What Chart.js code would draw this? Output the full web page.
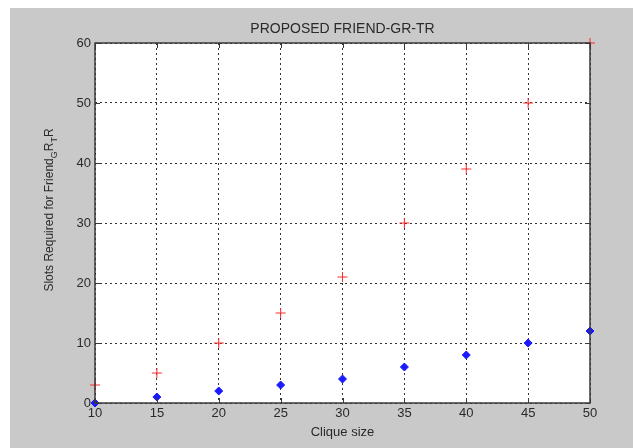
<!DOCTYPE html>
<html>
<head>
<meta charset="utf-8">
<script src="https://cdn.jsdelivr.net/npm/chart.js@4"></script>
<style>
  html, body { margin: 0; padding: 0; background: #ffffff; }
  canvas { display: block; }
</style>
</head>
<body>
<canvas id="cliqueChart" width="633" height="448"></canvas>
<script>
// data
const cliqueSizes = [10, 15, 20, 25, 30, 35, 40, 45, 50];
const proposedSlots = [3, 5, 10, 15, 21, 30, 39, 50, 60];   // red +
const otherSlots = [0, 1, 2, 3, 4, 6, 8, 10, 12];           // blue diamonds
const xTicks = [10, 15, 20, 25, 30, 35, 40, 45, 50];
const yTicks = [0, 10, 20, 30, 40, 50, 60];

const FONT = 'Liberation Sans, Arial, sans-serif';

// gray matlab figure background + axes box + inward ticks + labels
const matlabFrame = {
    id: 'matlabFrame',
    beforeDraw(chart) {
        const ctx = chart.ctx;
        const a = chart.chartArea;
        ctx.save();
        ctx.fillStyle = '#ffffff';
        ctx.fillRect(0, 0, chart.width, chart.height);
        ctx.fillStyle = '#c9c9c9';
        ctx.fillRect(10, 8, chart.width - 10, chart.height - 8);
        ctx.fillStyle = '#ffffff';
        ctx.fillRect(a.left, a.top, a.right - a.left, a.bottom - a.top);
        ctx.restore();
    },
    afterDatasetsDraw(chart) {
        const ctx = chart.ctx;
        const a = chart.chartArea;
        const xs = chart.scales.x;
        const ys = chart.scales.y;
        ctx.save();
        ctx.strokeStyle = '#3a3a3a';
        ctx.lineWidth = 1;
        // small inward ticks
        ctx.beginPath();
        xTicks.forEach(v => {
            const px = Math.round(xs.getPixelForValue(v)) + 0.5;
            ctx.moveTo(px, a.bottom); ctx.lineTo(px, a.bottom - 5);
            ctx.moveTo(px, a.top); ctx.lineTo(px, a.top + 5);
        });
        yTicks.forEach(v => {
            const py = Math.round(ys.getPixelForValue(v)) + 0.5;
            ctx.moveTo(a.left, py); ctx.lineTo(a.left + 5, py);
            ctx.moveTo(a.right, py); ctx.lineTo(a.right - 5, py);
        });
        ctx.stroke();
        ctx.lineWidth = 1.5;
        ctx.strokeRect(a.left, a.top, a.right - a.left, a.bottom - a.top);

        // title
        ctx.fillStyle = '#2a2a2a';
        ctx.font = '14px ' + FONT;
        ctx.textAlign = 'center';
        ctx.textBaseline = 'middle';
        ctx.fillText('PROPOSED FRIEND-GR-TR', (a.left + a.right) / 2, 29);

        // x axis label
        ctx.font = '13px ' + FONT;
        ctx.fillText('Clique size', (a.left + a.right) / 2, 432);

        // y axis label with TeX-like subscripts: Friend_G R_T R
        ctx.translate(50, 210);
        ctx.rotate(-Math.PI / 2);
        const parts = [
            ['Slots Required for Friend', false],
            ['G', true], ['R', false], ['T', true], ['R', false]
        ];
        let total = 0;
        parts.forEach(p => {
            ctx.font = (p[1] ? '9px ' : '12px ') + FONT;
            total += ctx.measureText(p[0]).width;
        });
        let x = -total / 2;
        ctx.textAlign = 'left';
        parts.forEach(p => {
            ctx.font = (p[1] ? '9px ' : '12px ') + FONT;
            ctx.fillText(p[0], x, p[1] ? 5 : 0);
            x += ctx.measureText(p[0]).width;
        });
        ctx.restore();
    }
};

new Chart(document.getElementById('cliqueChart'), {
    type: 'scatter',
    data: {
        datasets: [
            {
                label: 'Proposed',
                data: cliqueSizes.map((c, i) => ({ x: c, y: proposedSlots[i] })),
                pointStyle: 'cross',
                pointRadius: 5,
                borderColor: '#ff2a2a',
                backgroundColor: '#ff2a2a',
                borderWidth: 1,
                clip: false
            },
            {
                label: 'Other',
                data: cliqueSizes.map((c, i) => ({ x: c, y: otherSlots[i] })),
                pointStyle: 'rectRot',
                pointRadius: 4,
                borderColor: '#1a1aff',
                backgroundColor: '#1a1aff',
                borderWidth: 1,
                clip: false
            }
        ]
    },
    options: {
        responsive: false,
        animation: false,
        devicePixelRatio: 1,
        layout: { padding: { left: 0, right: 43, top: 43, bottom: 0 } },
        plugins: {
            legend: { display: false },
            tooltip: { enabled: false }
        },
        scales: {
            x: {
                type: 'linear',
                min: 10,
                max: 50,
                afterBuildTicks: s => { s.ticks = xTicks.map(v => ({ value: v })); },
                afterFit: s => { s.height = 45; },
                border: { display: false, dash: [2, 3] },
                grid: {
                    color: '#333333',
                    lineWidth: 1,
                    drawTicks: false
                },
                ticks: {
                    color: '#2a2a2a',
                    padding: 3,
                    maxRotation: 0,
                    font: { family: FONT, size: 13 }
                }
            },
            y: {
                min: 0,
                max: 60,
                afterBuildTicks: s => { s.ticks = yTicks.map(v => ({ value: v })); },
                afterFit: s => { s.width = 95; },
                border: { display: false, dash: [2, 3] },
                grid: {
                    color: '#333333',
                    lineWidth: 1,
                    drawTicks: false
                },
                ticks: {
                    color: '#2a2a2a',
                    padding: 4,
                    font: { family: FONT, size: 13 }
                }
            }
        }
    },
    plugins: [matlabFrame]
});
</script>
</body>
</html>
